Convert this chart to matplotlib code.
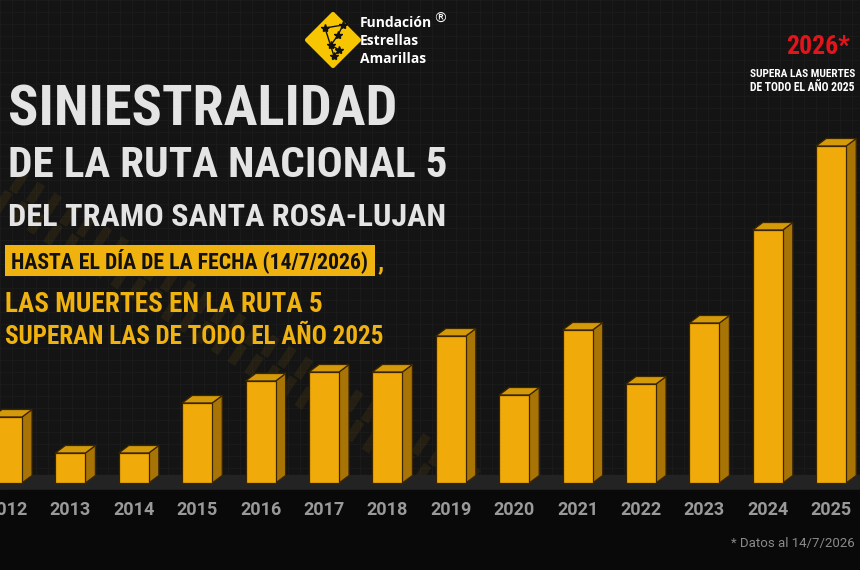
import os
import numpy as np
import matplotlib
matplotlib.use("Agg")
import matplotlib.pyplot as plt
import matplotlib.font_manager as fm
from matplotlib.font_manager import FontProperties
from matplotlib.patches import Polygon, Rectangle
from matplotlib.lines import Line2D

# ----------------------------------------------------------
# DATA (bar heights, no axis given)
# ----------------------------------------------------------
years = ["2012", "2013", "2014", "2015", "2016", "2017", "2018",
         "2019", "2020", "2021", "2022", "2023", "2024", "2025"]
deaths = [6.6, 3.0, 3.0, 8.0, 10.2, 11.1, 11.1,
          14.7, 8.8, 15.3, 9.9, 16.0, 25.3, 33.7]

title_lines = ["SINIESTRALIDAD", "DE LA RUTA NACIONAL 5", "DEL TRAMO SANTA ROSA-LUJAN"]
box_line = "HASTA EL DÍA DE LA FECHA (14/7/2026)"
yellow_lines = ["LAS MUERTES EN LA RUTA 5", "SUPERAN LAS DE TODO EL AÑO 2025"]
logo_lines = ["Fundación", "Estrellas", "Amarillas"]
note_year = "2026*"
note_lines = ["SUPERA LAS MUERTES", "DE TODO EL AÑO 2025"]
footnote = "* Datos al 14/7/2026"

W, H = 860, 570
BG = "#141414"
GOLD = "#F0AA0A"
GOLD_SIDE = "#A87406"
GOLD_TOP = "#D49A0A"
EDGE = "#3a2500"
YELLOW = "#F0B20E"


def pick_condensed():
    # look for a narrow bold face, similar to the poster lettering
    prefs = ["NotoSans-ExtraCondensedBold", "NotoSans-CondensedBold",
             "LiberationSansNarrow-Bold", "RobotoCondensed-Bold",
             "DejaVuSansCondensed-Bold"]
    files = [f.fname for f in fm.fontManager.ttflist]
    for p in prefs:
        for f in files:
            if os.path.basename(f).startswith(p):
                return FontProperties(fname=f)
    return FontProperties(family="DejaVu Sans", weight="bold", stretch="condensed")


COND = pick_condensed()


def fx(x):
    return x / W


def fy(y):
    return 1 - y / H


fig = plt.figure(figsize=(8.6, 5.7), dpi=100, facecolor=BG)
ax = fig.add_axes([0, 0, 1, 1])
ax.set_facecolor(BG)
ax.axis("off")

# pixel layout: bar i front centre at 7 + 63.4*i px, baseline at 483 px, 10 px per unit
step = 63.4
ax.set_xlim(-7 / step, (W - 7) / step)
ax.set_ylim(-(H - 483) / 10, 483 / 10)

# faint grid texture
for gx in np.arange(0, W, 12):
    fig.add_artist(Line2D([fx(gx), fx(gx)], [fy(0), fy(483)], color="#1c1c1c", lw=0.6, zorder=0))
for gy in np.arange(0, 483, 12):
    fig.add_artist(Line2D([0, 1], [fy(gy), fy(gy)], color="#1c1c1c", lw=0.6, zorder=0))

# tyre tracks
for off in (0, 45):
    ax.plot([(-30 + off - 7) / step, (430 + off - 7) / step],
            [(483 - 180) / 10, (483 - 480) / 10],
            color="#6a5012", lw=16, alpha=0.2, dashes=(0.4, 0.5), zorder=1)

# floor + black label band
ax.axhspan(-0.7, 0.8, color="#232323", zorder=1)
ax.axhspan(-(H - 483) / 10, -0.7, color="#090909", zorder=1)

# ----------------------------------------------------------
# 3D-looking bars
# ----------------------------------------------------------
x = np.arange(len(years))
bw = 30 / step
dx = 10 / step
dy = 0.75
ax.bar(x, deaths, width=bw, color=GOLD, edgecolor=EDGE, lw=0.9, zorder=4)
for xi, h in zip(x, deaths):
    x0 = xi - bw / 2
    x1 = xi + bw / 2
    side = Polygon([(x1, 0), (x1 + dx, dy), (x1 + dx, h + dy), (x1, h)],
                   closed=True, fc=GOLD_SIDE, ec=EDGE, lw=0.9, zorder=3)
    top = Polygon([(x0, h), (x0 + dx, h + dy), (x1 + dx, h + dy), (x1, h)],
                  closed=True, fc=GOLD_TOP, ec=EDGE, lw=0.9, zorder=3)
    ax.add_patch(side)
    ax.add_patch(top)
    ax.text(xi, -2.7, years[xi], ha="center", va="center", color="#9a9a9a",
            fontsize=13, fontweight="bold", family=["Roboto", "DejaVu Sans"], zorder=5)

# ----------------------------------------------------------
# TEXT
# ----------------------------------------------------------
fig.canvas.draw()
renderer = fig.canvas.get_renderer()


def fit(t, width_px, cap_px):
    # scale font so the line spans width_px, but not taller than cap_px
    bb = t.get_window_extent(renderer)
    fs = t.get_fontsize() * width_px / bb.width
    fs_h = cap_px / 0.714 * 72 / 100
    t.set_fontsize(min(fs, fs_h))


def ctext(px, py, s, color, width_px, cap_px, **kw):
    t = fig.text(fx(px), fy(py), s, color=color, fontproperties=COND.copy(),
                 va="baseline", zorder=6, **kw)
    t.set_fontsize(30)
    fit(t, width_px, cap_px)
    return t


ctext(8, 125, title_lines[0], "#e4e4e4", 388, 53)
ctext(8, 177, title_lines[1], "#e4e4e4", 438, 37)
ctext(8, 226, title_lines[2], "#e4e4e4", 438, 34)

# yellow box line
fig.add_artist(Rectangle((fx(5), fy(276)), fx(370), 31 / H, transform=fig.transFigure,
                         fc=YELLOW, ec="none", zorder=5))
ctext(11, 268, box_line, "#111111", 357, 18)
t = fig.text(fx(378), fy(269), ",", color=YELLOW, fontproperties=COND.copy(),
             va="baseline", zorder=6)
t.set_fontsize(18)

ctext(5, 312, yellow_lines[0], YELLOW, 317, 25)
ctext(5, 344, yellow_lines[1], YELLOW, 380, 25)

# logo
diamond = Polygon([(fx(333), fy(14)), (fx(359), fy(40)), (fx(333), fy(66)), (fx(307), fy(40))],
                  closed=True, transform=fig.transFigure, fc="#F7C600", ec="#F7C600",
                  lw=3, joinstyle="round", zorder=6)
fig.add_artist(diamond)
stars = [(325, 28), (343, 25), (338, 35), (331, 45), (339, 50), (334, 56)]
sx = [fx(p[0]) for p in stars]
sy = [fy(p[1]) for p in stars]
fig.add_artist(Line2D(sx + [sx[0]], sy + [sy[0]], color="#111111", lw=1.0, zorder=7))
for a, b in zip(sx, sy):
    fig.add_artist(Line2D([a], [b], marker="*", ms=6, color="#111111", zorder=7))
for s, py in zip(logo_lines, (27, 45, 63)):
    fig.text(fx(360), fy(py), s, color="white", fontsize=10, fontweight="bold",
             family=["Open Sans", "DejaVu Sans"], va="baseline", ha="left", zorder=6)
fig.text(fx(433), fy(23), "®", color="white", fontsize=10,
         family=["DejaVu Sans"], va="baseline", ha="left", zorder=6)

# top-right note
ctext(786, 54, note_year, "#E5141B", 64, 22)
ctext(750, 77, note_lines[0], "white", 106, 11)
ctext(750, 91, note_lines[1], "white", 106, 11)

# footnote
fig.text(fx(855), fy(547), footnote, color="#8a8a8a", fontsize=9.5,
         family=["Roboto", "DejaVu Sans"], va="baseline", ha="right", zorder=6)

plt.savefig("out.png", dpi=100, facecolor=BG)
plt.close()
